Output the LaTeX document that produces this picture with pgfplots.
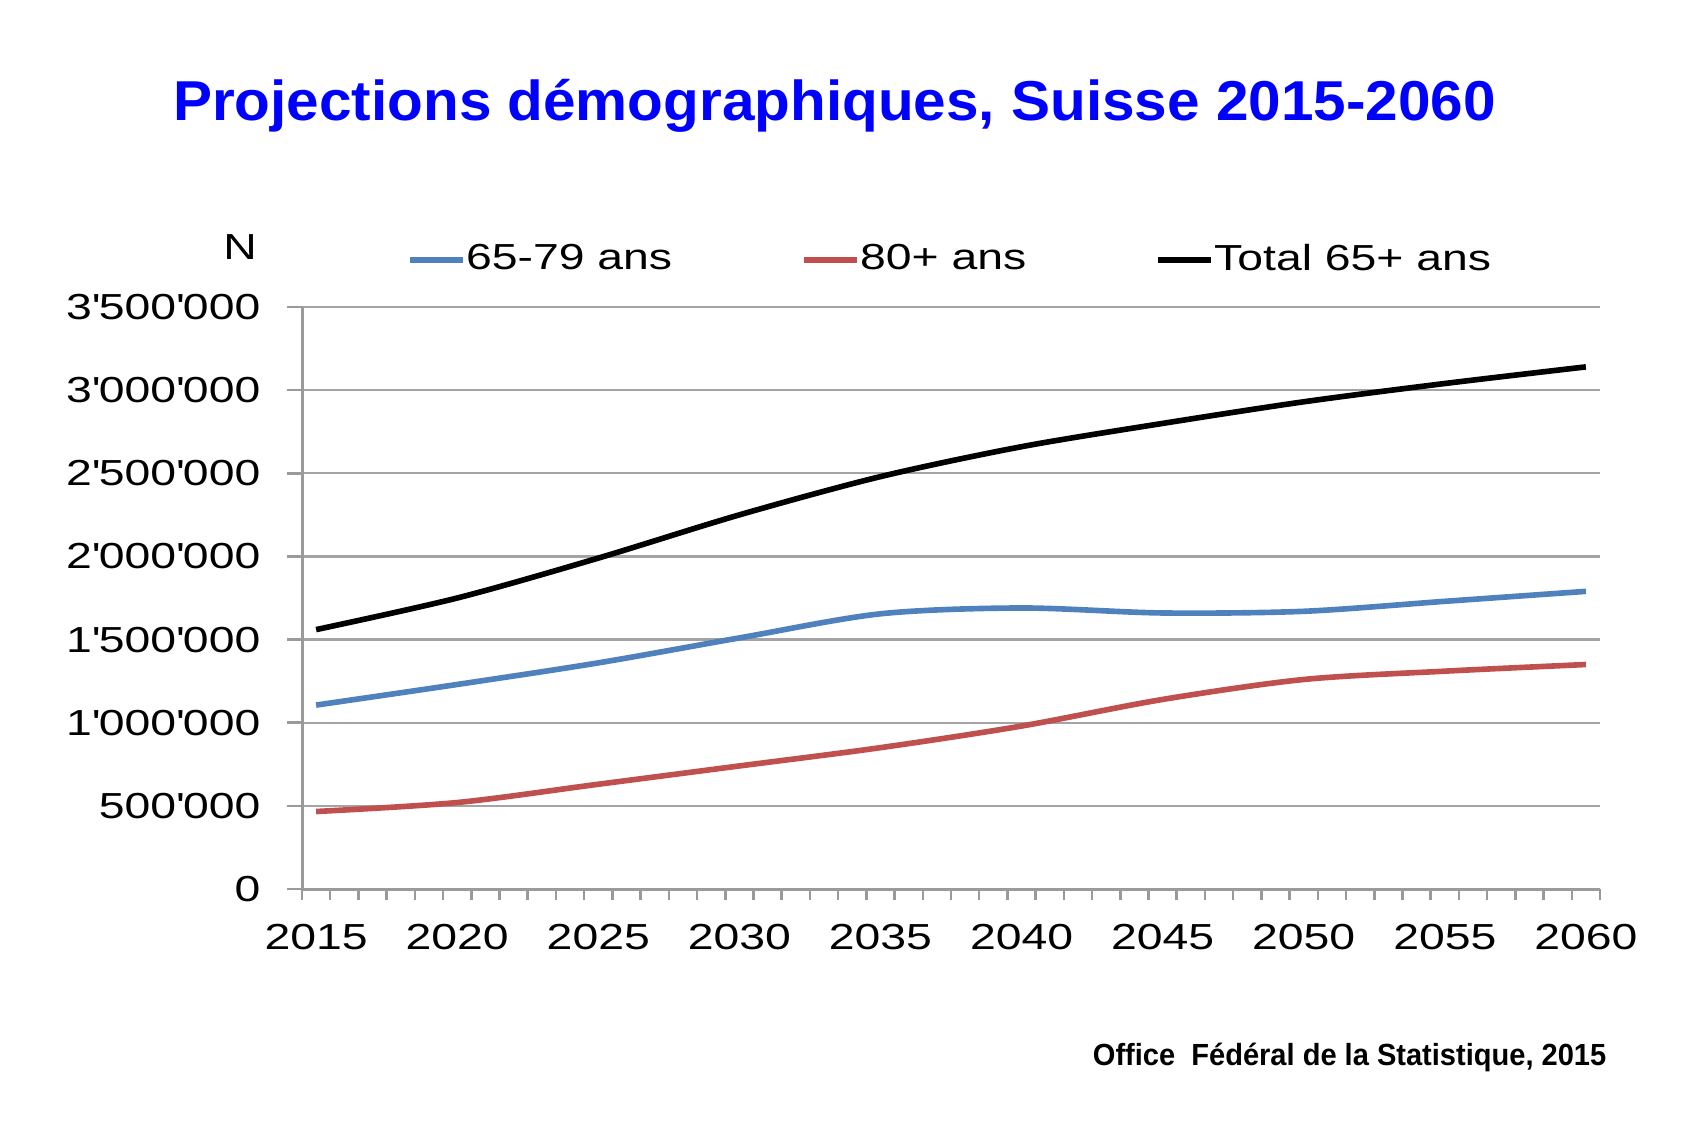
\documentclass[border=0pt]{standalone}
\usepackage{fontspec}
\setmainfont{Liberation Sans}[FakeStretch=1.28]
\newfontfamily\titlefont{Liberation Sans}[FakeStretch=1.04]
\newfontfamily\notefont{Liberation Sans}[FakeStretch=0.95]
\usepackage{pgfplots}
\pgfplotsset{compat=1.18}
\definecolor{ageblue}{HTML}{4F81BD}
\definecolor{agered}{HTML}{C0504D}
\definecolor{titleblue}{HTML}{0000FF}
\definecolor{axisgray}{HTML}{9A9A9A}
\newcommand{\q}{\textquotesingle}

\begin{document}
\begin{tikzpicture}
\path[use as bounding box] (0,0) rectangle (168.8mm,112.5mm);
\node[anchor=base, inner sep=0pt, text=titleblue,
      font=\titlefont\bfseries\fontsize{16}{18}\selectfont]
  at (83.45mm,100.4mm) {Projections démographiques, Suisse 2015-2060};
\node[anchor=base east, inner sep=0pt, font=\notefont\bfseries\fontsize{8.7}{10}\selectfont]
  at (160.7mm,6.0mm) {Office\ \ Fédéral de la Statistique, 2015};
\node[inner sep=0pt, font=\fontsize{10.3}{12}\selectfont] at (24.0mm,87.8mm) {N};

\begin{axis}[
  at={(30.2mm,23.6mm)}, anchor=south west,
  scale only axis, width=129.8mm, height=58.2mm,
  font=\fontsize{10.3}{12}\selectfont,
  xmin=2014.5, xmax=2060.5,
  ymin=0, ymax=3500000,
  axis lines*=left,
  axis line style={-, draw=axisgray, line width=0.3mm},
  tick align=outside,
  xtick={2015,2020,...,2060},
  xticklabels={2015,2020,2025,2030,2035,2040,2045,2050,2055,2060},
  minor xtick={2014.5,2015.5,...,2060.5},
  ytick={0,500000,...,3500000},
  yticklabels={0,500\q000,1\q000\q000,1\q500\q000,2\q000\q000,2\q500\q000,3\q000\q000,3\q500\q000},
  scaled y ticks=false,
  major tick length=1.5mm,
  minor tick length=1.1mm,
  every major x tick/.append style={draw=none},
  every tick/.append style={draw=axisgray, line width=0.25mm},
  ymajorgrids,
  grid style={draw=axisgray!90, line width=0.22mm},
  xticklabel style={inner sep=0pt, anchor=north, yshift=-2.0mm},
  yticklabel style={inner sep=0pt, anchor=east, xshift=-2.6mm},
  legend columns=3,
  legend style={draw=none, fill=none, inner sep=0pt,
    at={(axis description cs:0.0807,1.081)}, anchor=west,
    nodes={inner sep=0pt},
    /tikz/every even column/.append style={column sep=12.93mm}},
  legend cell align=left,
  legend image code/.code={\draw[#1] (0mm,0mm) -- (5.3mm,0mm);},
]
\addplot[ageblue, line width=1.6pt, smooth] coordinates {
  (2015,1106000) (2020,1230000) (2025,1360000) (2030,1510000) (2035,1655000)
  (2040,1690000) (2045,1660000) (2050,1670000) (2055,1730000) (2060,1790000)
};
\addlegendentry{65-79 ans}
\addplot[agered, line width=1.6pt, smooth] coordinates {
  (2015,466000) (2020,520000) (2025,630000) (2030,740000) (2035,850000)
  (2040,980000) (2045,1140000) (2050,1260000) (2055,1310000) (2060,1350000)
};
\addlegendentry{80+ ans}
\addplot[black, line width=1.6pt, smooth] coordinates {
  (2015,1560000) (2020,1750000) (2025,1990000) (2030,2250000) (2035,2480000)
  (2040,2660000) (2045,2800000) (2050,2930000) (2055,3040000) (2060,3140000)
};
\addlegendentry{Total 65+ ans}
\end{axis}
\end{tikzpicture}
\end{document}
